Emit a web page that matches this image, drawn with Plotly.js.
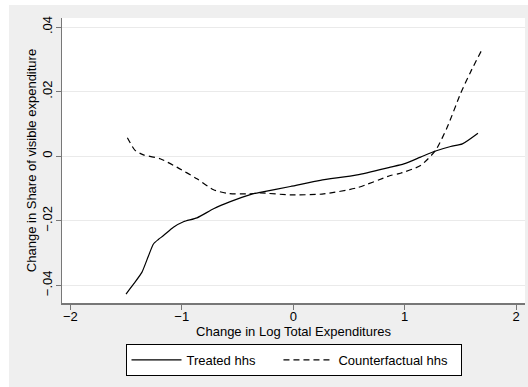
<!DOCTYPE html>
<html>
<head>
<meta charset="utf-8">
<script src="https://cdn.plot.ly/plotly-3.0.1.min.js"></script>
<style>
  html, body { margin: 0; padding: 0; background: #ffffff; }
  #chart { position: absolute; left: 9px; top: 5px; width: 519px; height: 382px; }
</style>
</head>
<body>
<div id="chart"></div>
<script>
// Treated households (solid line)
const treatedX = [-1.500, -1.430, -1.358, -1.300, -1.254, -1.210, -1.164, -1.075, -0.985, -0.864, -0.715, -0.565, -0.385, -0.296, -0.026, 0.243, 0.573, 0.872, 0.992, 1.142, 1.277, 1.412, 1.517, 1.657];
const treatedY = [-0.0427, -0.0395, -0.0360, -0.0310, -0.0272, -0.0258, -0.0246, -0.0220, -0.0203, -0.0191, -0.0163, -0.0141, -0.0119, -0.0112, -0.0094, -0.0075, -0.0058, -0.0034, -0.0024, -0.0003, 0.0016, 0.0030, 0.0038, 0.0071];

// Counterfactual households (dashed line)
const counterX = [-1.488, -1.419, -1.344, -1.194, -1.044, -0.864, -0.715, -0.595, -0.401, -0.296, -0.026, 0.273, 0.573, 0.872, 0.962, 1.142, 1.277, 1.382, 1.501, 1.591, 1.690];
const counterY = [0.0057, 0.0018, 0.0004, -0.0008, -0.0034, -0.0070, -0.0104, -0.0115, -0.0117, -0.0114, -0.0120, -0.0117, -0.0098, -0.0060, -0.0053, -0.0029, 0.0018, 0.0090, 0.0194, 0.0261, 0.0328];

const seriesNames = ["Treated hhs", "Counterfactual hhs"];

const xTickVals = [-2, -1, 0, 1, 2];
const xTickText = ["\u22122", "\u22121", "0", "1", "2"];
const yTickVals = [-0.04, -0.02, 0, 0.02, 0.04];
const yTickText = ["\u2212.04", "\u2212.02", "0", ".02", ".04"];

const font = "Liberation Sans, Arial, Helvetica, sans-serif";
const fs = 13;
const pad = (n) => "\u00a0".repeat(n);

const traces = [
  {
    x: treatedX, y: treatedY, name: seriesNames[0] + pad(5), type: "scatter", mode: "lines",
    line: { color: "#000000", width: 1.2, shape: "spline", smoothing: 0.6 }
  },
  {
    x: counterX, y: counterY, name: seriesNames[1] + pad(2), type: "scatter", mode: "lines",
    line: { color: "#000000", width: 1.2, dash: "6px,4px", shape: "spline", smoothing: 0.6 }
  }
];

const layout = {
  width: 519, height: 382,
  margin: { l: 53, r: 3, t: 13, b: 84, pad: 0 },
  paper_bgcolor: "#efefef",
  plot_bgcolor: "#ffffff",
  font: { family: font, size: fs, color: "#000000" },
  showlegend: true,
  legend: {
    orientation: "h", x: 0.5, xanchor: "center", y: -0.1433, yanchor: "top",
    bgcolor: "#ffffff", bordercolor: "#000000", borderwidth: 1,
    font: { family: font, size: fs, color: "#000000" },
    itemwidth: 50,
    traceorder: "normal"
  },
  xaxis: {
    range: [-2.0745, 2.079],
    tickvals: xTickVals, ticktext: xTickText,
    ticks: "outside", ticklen: 5, tickwidth: 1, tickcolor: "#777777",
    ticklabelstandoff: -4,
    showline: true, linecolor: "#777777", linewidth: 1.5,
    showgrid: false, zeroline: false,
    tickfont: { family: font, size: fs, color: "#000000" },
    title: { text: "Change in Log Total Expenditures", standoff: 1, font: { family: font, size: fs, color: "#000000" } },
    automargin: false
  },
  yaxis: {
    range: [-0.04548, 0.04279],
    tickvals: yTickVals, ticktext: yTickText,
    tickangle: -90,
    ticks: "outside", ticklen: 5, tickwidth: 1, tickcolor: "#777777",
    ticklabelstandoff: -2,
    showline: true, linecolor: "#777777", linewidth: 1.5,
    showgrid: true, gridcolor: "#eaeaea", gridwidth: 1, zeroline: false,
    tickfont: { family: font, size: fs, color: "#000000" },
    title: { text: "Change in Share of visible expenditure", standoff: 0, font: { family: font, size: fs, color: "#000000" } },
    automargin: false
  }
};

Plotly.newPlot("chart", traces, layout, { displayModeBar: false, staticPlot: true });
</script>
</body>
</html>
